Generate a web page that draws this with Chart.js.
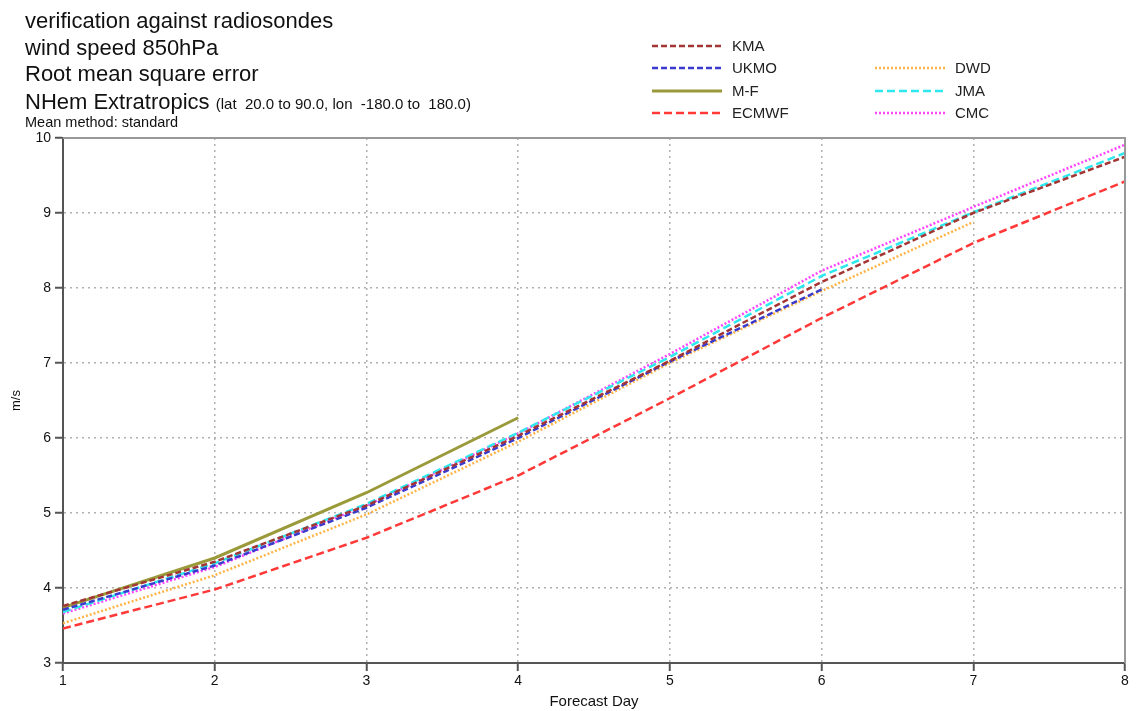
<!DOCTYPE html>
<html>
<head>
    <meta charset="UTF-8">
    <title>wind speed 850hPa RMSE</title>
    <script src="https://cdn.jsdelivr.net/npm/chart.js"></script>
    <style>
        html, body { margin: 0; padding: 0; background: #fff; }
        #wrap { position: relative; width: 1137px; height: 711px; }
        #chart { position: absolute; left: 0; top: 0; }
        .t { position: absolute; left: 25px; font-family: "Liberation Sans", Arial, sans-serif; color: #111; white-space: nowrap; line-height: 1.15; }
        .big { font-size: 22px; }
        .small { font-size: 15px; }
    </style>
</head>
<body>
<div id="wrap">
    <canvas id="chart" width="1137" height="711"></canvas>
    <div class="t big" style="top:8px">verification against radiosondes</div>
    <div class="t big" style="top:35px">wind speed 850hPa</div>
    <div class="t big" style="top:61px">Root mean square error</div>
    <div class="t big" style="top:89px">NHem Extratropics <span class="small">(lat &nbsp;20.0 to 90.0, lon &nbsp;-180.0 to &nbsp;180.0)</span></div>
    <div class="t" style="top:114px;font-size:14.5px">Mean method: standard</div>
</div>

<script>
    // forecast days
    const days = [1, 2, 3, 4, 5, 6, 7, 8];

    // RMSE values (m/s)
    const kma   = [3.76, 4.35, 5.10, 6.03, 7.03, 8.08, 9.00, 9.75];
    const ukmo  = [3.71, 4.30, 5.07, 6.00, 7.02, 7.98];
    const mf    = [3.74, 4.40, 5.27, 6.27];
    const ecmwf = [3.46, 3.98, 4.67, 5.50, 6.53, 7.60, 8.60, 9.42];
    const dwd   = [3.53, 4.17, 4.98, 5.95, 7.00, 7.96, 8.88];
    const jma   = [3.68, 4.33, 5.12, 6.07, 7.08, 8.16, 9.01, 9.80];
    const cmc   = [3.66, 4.28, 5.10, 6.06, 7.12, 8.23, 9.08, 9.91];

    const yTicks = [3, 4, 5, 6, 7, 8, 9, 10];

    function pts(vals) {
        return vals.map((v, i) => ({ x: days[i], y: v }));
    }

    const datasets = [
        { label: "KMA",   data: pts(kma),   borderColor: "#a33535", borderDash: [6, 3], borderWidth: 2.5, col: 0, row: 0 },
        { label: "UKMO",  data: pts(ukmo),  borderColor: "#3a3acc", borderDash: [6, 3], borderWidth: 2.5, col: 0, row: 1 },
        { label: "M-F",   data: pts(mf),    borderColor: "#9a9a3a", borderDash: [],     borderWidth: 3,   col: 0, row: 2 },
        { label: "ECMWF", data: pts(ecmwf), borderColor: "#ff3838", borderDash: [8, 4], borderWidth: 2.5, col: 0, row: 3 },
        { label: "DWD",   data: pts(dwd),   borderColor: "#ffb447", borderDash: [2, 2], borderWidth: 2.5, col: 1, row: 1 },
        { label: "JMA",   data: pts(jma),   borderColor: "#2ee8ee", borderDash: [8, 4], borderWidth: 2.5, col: 1, row: 2 },
        { label: "CMC",   data: pts(cmc),   borderColor: "#ff44ff", borderDash: [2, 2], borderWidth: 2.5, col: 1, row: 3 }
    ];
    datasets.forEach(d => { d.pointRadius = 0; d.fill = false; d.tension = 0; });

    // box round the plot and the two-column legend
    const extras = {
        id: "extras",
        afterDraw(chart) {
            const ctx = chart.ctx;
            const a = chart.chartArea;
            ctx.save();
            ctx.strokeStyle = "#999";
            ctx.lineWidth = 2;
            ctx.beginPath();
            ctx.moveTo(a.left, a.top);
            ctx.lineTo(a.right, a.top);
            ctx.lineTo(a.right, a.bottom);
            ctx.stroke();

            const colX = [652, 875];
            const rowY = [46, 68, 91, 113];
            ctx.font = "15px 'Liberation Sans', Arial, sans-serif";
            ctx.textBaseline = "middle";
            chart.data.datasets.forEach(d => {
                const x = colX[d.col], y = rowY[d.row];
                ctx.strokeStyle = d.borderColor;
                ctx.lineWidth = d.borderWidth;
                ctx.setLineDash(d.borderDash);
                ctx.beginPath();
                ctx.moveTo(x, y);
                ctx.lineTo(x + 70, y);
                ctx.stroke();
                ctx.setLineDash([]);
                ctx.fillStyle = "#222";
                ctx.fillText(d.label, x + 80, y + 1);
            });
            ctx.restore();
        }
    };

    const gridOpts = {
        color: "#b0b0b0",
        lineWidth: 1.5,
        tickColor: "#555",
        tickBorderDash: [1, 0],
        tickLength: 8,
        tickWidth: 2
    };
    const borderOpts = { color: "#555", width: 2, dash: [2, 4] };
    const tickFont = { size: 14, family: "'Liberation Sans', Arial" };

    new Chart(document.getElementById("chart"), {
        type: "line",
        data: { datasets: datasets },
        plugins: [extras],
        options: {
            responsive: false,
            animation: false,
            layout: { padding: { top: 138, right: 12, left: 0, bottom: 0 } },
            plugins: { legend: { display: false }, tooltip: { enabled: false } },
            scales: {
                x: {
                    type: "linear",
                    min: 1, max: 8,
                    afterFit: s => { s.height = 48; },
                    ticks: { stepSize: 1, color: "#111", font: tickFont, padding: 2 },
                    grid: gridOpts,
                    border: borderOpts,
                    title: { display: true, text: "Forecast Day", color: "#111", font: { size: 15, family: "'Liberation Sans', Arial" }, padding: 0 }
                },
                y: {
                    min: 3, max: 10,
                    afterFit: s => { s.width = 63; },
                    afterBuildTicks: s => { s.ticks = yTicks.map(v => ({ value: v })); },
                    ticks: { color: "#111", font: tickFont, padding: 4 },
                    grid: gridOpts,
                    border: borderOpts,
                    title: { display: true, text: "m/s", color: "#111", font: { size: 13, family: "'Liberation Sans', Arial" }, padding: { top: 9, bottom: 0 } }
                }
            }
        }
    });
</script>
</body>
</html>
